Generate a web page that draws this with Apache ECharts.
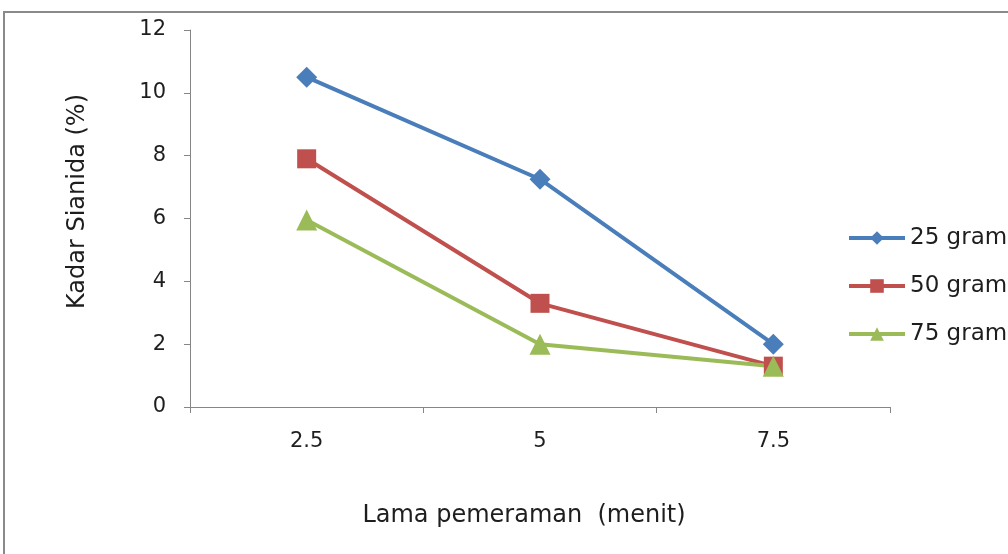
<!DOCTYPE html>
<html>
<head>
<meta charset="utf-8">
<script src="https://cdn.jsdelivr.net/npm/echarts@6/dist/echarts.min.js"></script>
<style>
  html, body { margin: 0; padding: 0; background: #fff; }
  #chart { width: 1008px; height: 554px; }
</style>
</head>
<body>
<div id="chart"></div>
<script>
// Cyanide content by curing time for three sample masses
const categories = ['2.5', '5', '7.5'];
const seriesNames = ['25 gram', '50 gram', '75 gram'];
const gram25 = [10.5, 7.25, 2.0];
const gram50 = [7.9, 3.3, 1.3];
const gram75 = [5.95, 2.0, 1.3];
const yTicks = { min: 0, max: 12, interval: 2 };

const colors = ['#4A7EBB', '#C0504D', '#9BBB59'];
const symbols = ['diamond', 'rect', 'triangle'];
const symbolSizes = [21, 19, 21];
const values = [gram25, gram50, gram75];
const font = 'DejaVu Sans, sans-serif';
const textColor = '#1e1e1e';

const chart = echarts.init(document.getElementById('chart'));
chart.setOption({
  animation: false,
  backgroundColor: '#fff',
  graphic: [{
    type: 'rect',
    shape: { x: 4, y: 12, width: 1100, height: 700 },
    style: { fill: 'none', stroke: '#8a8a8a', lineWidth: 2 },
    silent: true
  }],
  grid: { left: 190, right: 118, top: 30, bottom: 147 },
  legend: {
    orient: 'vertical',
    left: 847,
    top: 226,
    padding: 0,
    itemWidth: 56,
    itemHeight: 17,
    itemGap: 24,
    lineStyle: { width: 4 },
    textStyle: { fontFamily: font, fontSize: 23, lineHeight: 24, color: textColor },
    data: seriesNames
  },
  xAxis: {
    type: 'category',
    data: categories,
    boundaryGap: true,
    name: 'Lama pemeraman  (menit)',
    nameLocation: 'middle',
    nameGap: 97,
    nameTextStyle: { fontFamily: font, fontSize: 24, color: textColor, padding: [0, 32, 0, 0] },
    axisLine: { lineStyle: { color: '#868686', width: 1 } },
    axisTick: { show: true, length: 6, lineStyle: { color: '#868686' } },
    axisLabel: { fontFamily: font, fontSize: 21, color: textColor, margin: 24 },
    splitLine: { show: false }
  },
  yAxis: {
    type: 'value',
    min: yTicks.min,
    max: yTicks.max,
    interval: yTicks.interval,
    name: 'Kadar Sianida (%)',
    nameLocation: 'middle',
    nameGap: 100,
    nameRotate: 90,
    nameTextStyle: { fontFamily: font, fontSize: 24, color: textColor, padding: [0, 0, 0, 34] },
    axisLine: { show: true, lineStyle: { color: '#868686', width: 1 } },
    axisTick: { show: true, length: 6, lineStyle: { color: '#868686' } },
    axisLabel: { fontFamily: font, fontSize: 21, color: textColor, margin: 24 },
    splitLine: { show: false }
  },
  series: seriesNames.map((name, i) => ({
    name: name,
    type: 'line',
    data: values[i],
    symbol: symbols[i],
    symbolSize: symbolSizes[i],
    showAllSymbol: true,
    lineStyle: { color: colors[i], width: 4 },
    itemStyle: { color: colors[i] },
    emphasis: { disabled: true }
  }))
});
</script>
</body>
</html>
